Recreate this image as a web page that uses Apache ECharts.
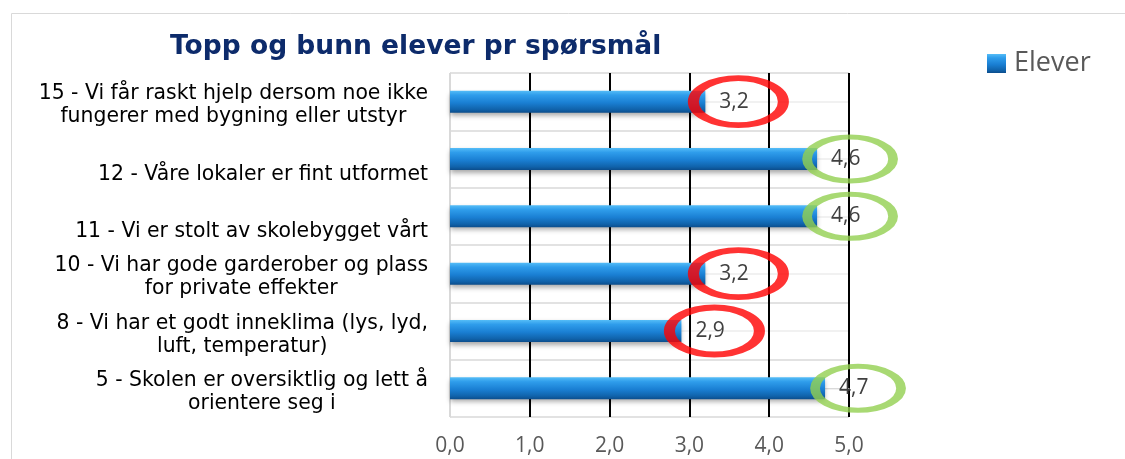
<!DOCTYPE html>
<html>
<head>
<meta charset="utf-8">
<script src="https://cdn.jsdelivr.net/npm/echarts@6/dist/echarts.min.js"></script>
<style>
  html, body { margin: 0; padding: 0; background: #fff; }
  #chart { width: 1125px; height: 459px; }
</style>
</head>
<body>
<div id="chart"></div>
<script>
// data (top to bottom)
var categories = [
  "15 - Vi får raskt hjelp dersom noe ikke\nfungerer med bygning eller utstyr",
  "12 - Våre lokaler er fint utformet",
  "11 - Vi er stolt av skolebygget vårt",
  "10 - Vi har gode garderober og plass\nfor private effekter",
  "8 - Vi har et godt inneklima (lys, lyd,\nluft, temperatur)",
  "5 - Skolen er oversiktlig og lett å\norientere seg i"
];
var elever = [3.2, 4.6, 4.6, 3.2, 2.9, 4.7];
var xTicks = [0, 1, 2, 3, 4, 5];

var LOW = 4; // under this gets a red ring, else green

var myChart = echarts.init(document.getElementById("chart"));

var barColor = new echarts.graphic.LinearGradient(0, 0, 0, 1, [
  { offset: 0, color: "#55bdf7" },
  { offset: 0.2, color: "#2f9deb" },
  { offset: 0.55, color: "#1a7fd3" },
  { offset: 0.85, color: "#1063ab" },
  { offset: 1, color: "#0b4d8c" }
]);

function fmt(v) {
  return v.toFixed(1).replace(".", ",");
}

var rings = elever.map(function (v, i) {
  var low = v < LOW;
  return {
    value: [v, i],
    symbolSize: low ? [90, 47] : [86, 44],
    itemStyle: { borderColor: low ? "#ff0000" : "#92d050", borderWidth: low ? 8 : 7 }
  };
});

var options = {
  animation: false,
  title: {
    text: "Topp og bunn elever pr spørsmål",
    left: 170,
    top: 34,
    padding: 0,
    textStyle: { fontFamily: "DejaVu Sans", fontWeight: "bold", fontSize: 26.5, color: "#0d2b6b" }
  },
  legend: {
    left: 987,
    top: 50,
    padding: 0,
    icon: "rect",
    itemWidth: 19,
    itemHeight: 19,
    data: ["Elever"],
    textStyle: { fontFamily: "Open Sans", fontSize: 27, color: "#595959", lineHeight: 20, padding: [0, 0, 0, 3] }
  },
  graphic: [
    {
      type: "rect",
      left: 9,
      top: 11,
      shape: { width: 1200, height: 500 },
      style: { fill: "none", stroke: "#d9d9d9", lineWidth: 1 },
      silent: true
    }
  ],
  grid: { left: 450, right: 276, top: 73, bottom: 42 },
  xAxis: {
    type: "value",
    min: 0,
    max: 5,
    interval: 1,
    axisLine: { show: true, lineStyle: { color: "#d9d9d9" } },
    axisTick: { show: false },
    axisLabel: {
      margin: 19,
      fontFamily: "Open Sans",
      fontSize: 21,
      color: "#595959",
      formatter: function (v) { return fmt(v); }
    },
    splitLine: {
      show: true,
      lineStyle: { color: ["#d9d9d9", "#000", "#000", "#000", "#000", "#000"], width: 2 }
    }
  },
  yAxis: [
    {
      type: "category",
      inverse: true,
      data: categories,
      axisLine: { show: true, lineStyle: { color: "#d9d9d9" } },
      axisTick: { show: false },
      splitLine: { show: false },
      axisLabel: {
        margin: 22,
        align: "right",
        padding: [8, 0, 0, 0],
        formatter: function (v) {
          var lines = v.indexOf("\n") < 0 ? ["", v] : v.split("\n");
          return lines.map(function (l) { return l ? "{c|" + l + "}" : ""; }).join("\n");
        },
        rich: {
          c: { align: "center", fontFamily: "DejaVu Sans", fontSize: 20.4, lineHeight: 23, color: "#000" }
        },
        lineHeight: 23,
        fontFamily: "DejaVu Sans",
        fontSize: 20.4,
        color: "#000"
      }
    },
    {
      // only gives the thin band lines (edges + middles)
      type: "value",
      min: -0.5,
      max: 5.5,
      interval: 0.5,
      axisLine: { show: false },
      axisTick: { show: false },
      axisLabel: { show: false },
      splitLine: { show: true, lineStyle: { color: ["#d9d9d9", "#ececec"], width: 1.5 } }
    }
  ],
  series: [
    {
      name: "Elever",
      type: "bar",
      data: elever,
      barWidth: 22,
      itemStyle: {
        color: barColor,
        shadowColor: "rgba(0,0,0,0.35)",
        shadowBlur: 5,
        shadowOffsetY: 3
      },
      label: {
        show: true,
        position: "right",
        distance: 14,
        fontFamily: "Open Sans",
        fontSize: 21,
        color: "#404040",
        formatter: function (p) { return fmt(p.value); }
      }
    },
    {
      type: "scatter",
      data: rings,
      symbol: "circle",
      symbolOffset: [33, 0],
      z: 3,
      clip: false,
      silent: true,
      itemStyle: { color: "rgba(0,0,0,0)" }
    }
  ]
};

myChart.setOption(options);
</script>
</body>
</html>
